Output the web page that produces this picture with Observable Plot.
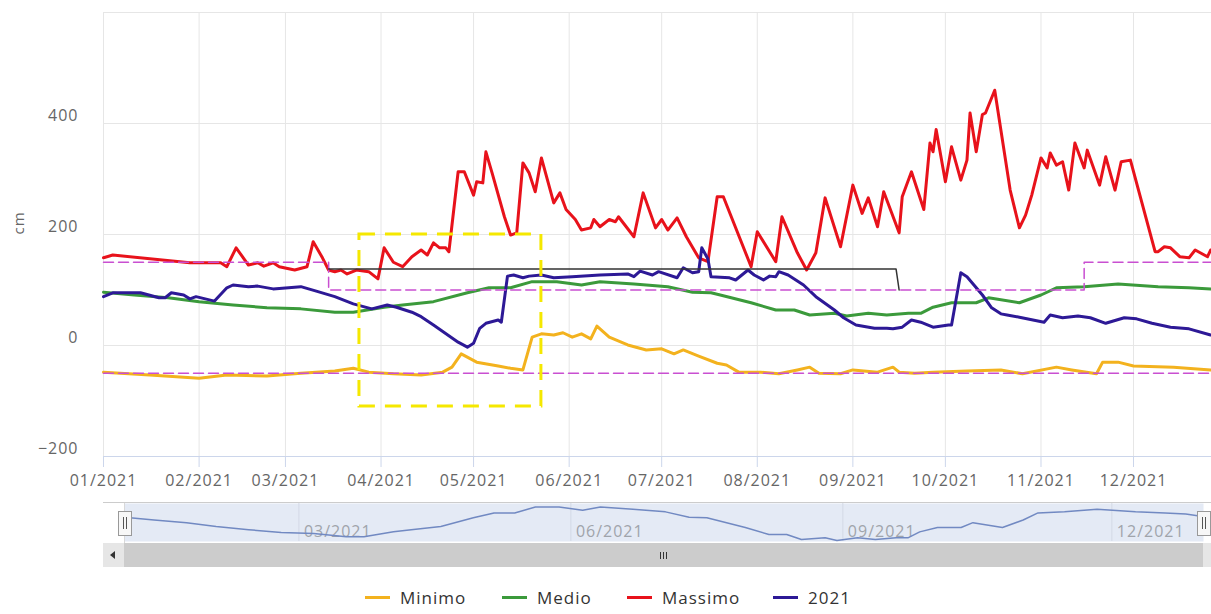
<!DOCTYPE html>
<html>
<head>
<meta charset="utf-8">
<script src="https://cdn.jsdelivr.net/npm/d3@7"></script>
<script src="https://cdn.jsdelivr.net/npm/@observablehq/plot@0.6"></script>
<style>
  body { margin: 0; background: #fff; font-family: "Open Sans", sans-serif; }
  #wrap { position: relative; width: 1211px; height: 614px; overflow: hidden; background: #fff; }
  #main, #nav { position: absolute; left: 0; }
  #main { top: 0; }
  #nav { top: 500px; }
  .abs { position: absolute; }
  .lgtext { position: absolute; font-size: 17px; line-height: 17px; color: #333; letter-spacing: 1px; white-space: nowrap; }
  .sw { position: absolute; height: 3px; width: 25px; }
</style>
</head>
<body>
<div id="wrap">
  <div id="main"></div>
  <div id="nav"></div>
  <!-- navigator chrome -->
  <div class="abs" style="left:103px;top:502px;width:1108px;height:1px;background:#cccccc"></div>
  <div class="abs" style="left:124px;top:503px;width:1px;height:40px;background:#d8d8d8"></div>
  <div class="abs" style="left:103px;top:543px;width:1108px;height:24px;background:#f2f2f2"></div>
  <div class="abs" style="left:103px;top:543px;width:21px;height:24px;background:#e6e6e6"></div>
  <div class="abs" style="left:110px;top:551px;width:0;height:0;border-top:4px solid transparent;border-bottom:4px solid transparent;border-right:5px solid #333"></div>
  <div class="abs" style="left:124px;top:543px;width:1079px;height:24px;background:#cccccc"></div>
  <div class="abs" style="left:1203px;top:543px;width:21px;height:24px;background:#e6e6e6"></div>
  <div class="abs" style="left:660px;top:552px;width:1px;height:7px;background:#333"></div>
  <div class="abs" style="left:663px;top:552px;width:1px;height:7px;background:#333"></div>
  <div class="abs" style="left:666px;top:552px;width:1px;height:7px;background:#333"></div>
  <div class="abs" style="left:118px;top:511px;width:12px;height:23px;background:#f7f7f7;border:1px solid #999"></div>
  <div class="abs" style="left:123px;top:517px;width:1px;height:12px;background:#555"></div>
  <div class="abs" style="left:126px;top:517px;width:1px;height:12px;background:#555"></div>
  <div class="abs" style="left:1197px;top:511px;width:12px;height:23px;background:#f7f7f7;border:1px solid #999"></div>
  <div class="abs" style="left:1202px;top:517px;width:1px;height:12px;background:#555"></div>
  <div class="abs" style="left:1205px;top:517px;width:1px;height:12px;background:#555"></div>
  <div id="legend"></div>
</div>
<script>
// ---- data: [day of year 2021 (0 = 1 Jan), value in cm] ----
const minimo = [[0,-48],[15,-53],[31,-59],[40,-53],[53,-55],[64,-50],[75,-46],[81,-41],[86,-48],[94,-51],[103,-53],[110,-48],[113,-39],[116,-15],[121,-30],[128,-37],[132,-41],[136,-44],[139,15],[142,21],[146,19],[149,23],[152,15],[155,21],[158,12],[160,35],[164,15],[170,1],[176,-8],[181,-6],[185,-15],[188,-8],[193,-19],[199,-32],[202,-35],[206,-48],[213,-48],[219,-51],[225,-44],[229,-39],[232,-50],[239,-51],[243,-44],[251,-48],[256,-39],[258,-48],[263,-50],[269,-48],[280,-46],[291,-44],[298,-51],[309,-39],[314,-44],[322,-51],[324,-30],[329,-30],[334,-37],[347,-39],[359,-44]];
const medio = [[0,96],[10,91],[21,86],[31,79],[42,73],[53,68],[64,66],[75,60],[81,60],[91,69],[97,73],[107,79],[118,95],[125,104],[132,104],[139,115],[147,115],[155,109],[161,115],[172,111],[183,106],[191,96],[197,95],[200,91],[210,77],[218,64],[224,64],[229,55],[237,58],[241,53],[248,58],[254,55],[261,58],[265,58],[269,69],[275,77],[283,77],[287,86],[297,77],[304,91],[309,104],[318,106],[329,111],[342,106],[352,104],[359,102],[363,99]];
const massimo = [[0,158],[3,163],[28,149],[38,149],[40,142],[43,176],[47,145],[50,149],[52,143],[55,149],[57,142],[62,136],[66,142],[68,187],[71,158],[73,136],[75,133],[77,136],[79,129],[82,136],[86,133],[89,120],[91,176],[94,150],[97,142],[100,160],[103,172],[105,163],[107,185],[109,176],[111,176],[112,169],[115,313],[117,313],[120,271],[121,295],[123,293],[124,349],[126,311],[130,232],[132,199],[134,203],[136,329],[138,311],[140,277],[142,338],[146,257],[148,275],[150,245],[153,227],[155,208],[158,212],[159,227],[161,214],[164,227],[166,223],[167,232],[172,196],[175,275],[179,212],[181,227],[183,208],[186,230],[189,196],[193,158],[196,151],[199,268],[201,268],[210,142],[212,205],[218,151],[220,232],[225,167],[228,136],[231,167],[234,266],[239,178],[243,289],[246,238],[248,266],[251,214],[253,277],[258,203],[259,268],[262,313],[266,245],[268,365],[269,349],[270,389],[273,295],[275,358],[278,298],[280,334],[281,419],[283,349],[285,416],[286,419],[289,460],[294,280],[297,212],[299,235],[301,271],[304,338],[306,320],[307,347],[309,325],[311,331],[313,280],[315,365],[318,320],[319,352],[323,289],[325,340],[328,280],[330,331],[333,334],[341,169],[342,169],[344,178],[346,176],[349,160],[352,158],[354,172],[358,160],[359,172]];
const anno2021 = [[0,88],[3,95],[12,95],[18,86],[20,86],[22,95],[26,91],[28,84],[30,88],[36,80],[40,104],[42,109],[47,106],[50,107],[55,102],[64,106],[69,98],[75,88],[81,75],[87,66],[92,73],[95,69],[100,60],[103,52],[107,37],[115,6],[118,-3],[120,4],[122,31],[124,40],[128,46],[129,42],[131,125],[133,127],[136,122],[138,125],[142,127],[146,122],[152,124],[161,127],[170,129],[172,124],[174,134],[178,127],[180,133],[186,122],[188,140],[191,131],[193,133],[194,176],[196,156],[197,124],[203,122],[205,118],[207,127],[209,136],[211,127],[214,118],[216,125],[218,124],[219,133],[222,127],[227,109],[231,88],[237,64],[240,50],[244,37],[250,31],[254,31],[256,30],[259,33],[262,46],[265,42],[269,33],[274,37],[275,37],[278,131],[280,124],[285,91],[288,68],[291,57],[293,55],[297,51],[305,42],[307,55],[311,50],[316,53],[320,50],[325,40],[331,50],[335,48],[340,40],[346,33],[352,30],[359,19]];
// threshold lines
const sogliaAlta = [[0,150],[73,150],[73,100],[318,100],[318,150],[364,150]];
const sogliaBassa = [[0,-50],[364,-50]];
const sogliaNera = [[73,138],[257,138],[258,100]];
// highlighted box: [start day, end day], [low, high]
const boxDays = [83, 142];
const boxValues = [-110, 200];

const seriesNames = ["Minimo", "Medio", "Massimo", "2021"];
const seriesColors = ["#f3b21e", "#3b9a3b", "#e8121b", "#2d1996"];
const yTicks = [-200, 0, 200, 400];
const yGrid = [-200, 0, 200, 400, 600];

const toDate = k => new Date(Date.UTC(2021, 0, 1 + k));
const rows = arr => arr.map(([k, v]) => ({date: toDate(k), value: v}));
const months = d3.utcMonths(toDate(0), toDate(365));
const navTicks = [toDate(59), toDate(151), toDate(243), toDate(334)];

const lineOpts = (color, w = 3) => ({x: "date", y: "value", stroke: color, strokeWidth: w, strokeLinejoin: "round", strokeLinecap: "round"});

const main = Plot.plot({
  width: 1211, height: 500,
  marginLeft: 103, marginRight: 0, marginTop: 12, marginBottom: 44,
  x: {type: "utc", domain: [toDate(0), new Date(Date.UTC(2021, 11, 26, 7))]},
  y: {domain: [-200, 600]},
  style: {background: "transparent", fontFamily: "Open Sans", fontSize: "16px", letterSpacing: "1px"},
  marks: [
    Plot.gridY(yGrid, {stroke: "#e6e6e6", strokeOpacity: 1}),
    Plot.gridX(months, {stroke: "#e6e6e6", strokeOpacity: 1}),
    Plot.ruleY([-200], {stroke: "#ccd6eb"}),
    Plot.axisY(yTicks, {tickSize: 0, tickPadding: 25, dy: -8, fontSize: 16, fill: "#666", label: null}),
    Plot.axisX(months, {tickSize: 11, tickPadding: 7, stroke: "#ccd6eb", fill: "#666", fontSize: 16, tickFormat: d3.utcFormat("%m/%Y"), label: null}),
    Plot.text(["cm"], {frameAnchor: "left", dx: -84, rotate: -90, fontSize: 15, fill: "#666"}),
    Plot.line(rows(minimo), lineOpts(seriesColors[0])),
    Plot.line(rows(medio), lineOpts(seriesColors[1])),
    Plot.line(rows(massimo), lineOpts(seriesColors[2])),
    Plot.line(rows(anno2021), lineOpts(seriesColors[3])),
    Plot.line(rows(sogliaAlta), {x: "date", y: "value", stroke: "#c94fd1", strokeWidth: 1.5, strokeDasharray: "10,5"}),
    Plot.line(rows(sogliaBassa), {x: "date", y: "value", stroke: "#c94fd1", strokeWidth: 1.5, strokeDasharray: "10,5"}),
    Plot.line(rows(sogliaNera), {x: "date", y: "value", stroke: "#333", strokeWidth: 1.5}),
    Plot.rect([{x1: toDate(boxDays[0]), x2: toDate(boxDays[1]), y1: boxValues[0], y2: boxValues[1]}],
      {x1: "x1", x2: "x2", y1: "y1", y2: "y2", fill: "none", stroke: "#f5e800", strokeWidth: 3, strokeDasharray: "16,10"})
  ]
});
document.getElementById("main").appendChild(main);

const nav = Plot.plot({
  width: 1211, height: 72,
  marginLeft: 124, marginRight: 8, marginTop: 3, marginBottom: 31,
  x: {type: "utc", domain: [toDate(0), toDate(365)], axis: null},
  y: {domain: [53, 115], range: [40, 6.5], axis: null},
  style: {background: "transparent", fontFamily: "Open Sans", fontSize: "16px", letterSpacing: "1px"},
  marks: [
    Plot.frame({fill: "#e4eaf5", stroke: null}),
    Plot.gridX(navTicks, {stroke: "#d3d9e6", strokeOpacity: 1}),
    Plot.axisX(navTicks, {tickSize: 0, tickPadding: 3, dy: -19, dx: 5, textAnchor: "start", fill: "#a0a4ab", fontSize: 16, tickFormat: d3.utcFormat("%m/%Y"), label: null}),
    Plot.line(rows(medio), {x: "date", y: "value", stroke: "#7189c2", strokeWidth: 1.5})
  ]
});
document.getElementById("nav").appendChild(nav);

// legend
const legendLayout = [[365, 400], [502, 537], [627, 662], [773, 808]];
const lg = document.getElementById("legend");
seriesNames.forEach((name, i) => {
  const sw = document.createElement("div");
  sw.className = "sw";
  sw.style.left = legendLayout[i][0] + "px";
  sw.style.top = "596px";
  sw.style.background = seriesColors[i];
  lg.appendChild(sw);
  const t = document.createElement("div");
  t.className = "lgtext";
  t.style.left = legendLayout[i][1] + "px";
  t.style.top = "589px";
  t.textContent = name;
  lg.appendChild(t);
});
</script>
</body>
</html>
